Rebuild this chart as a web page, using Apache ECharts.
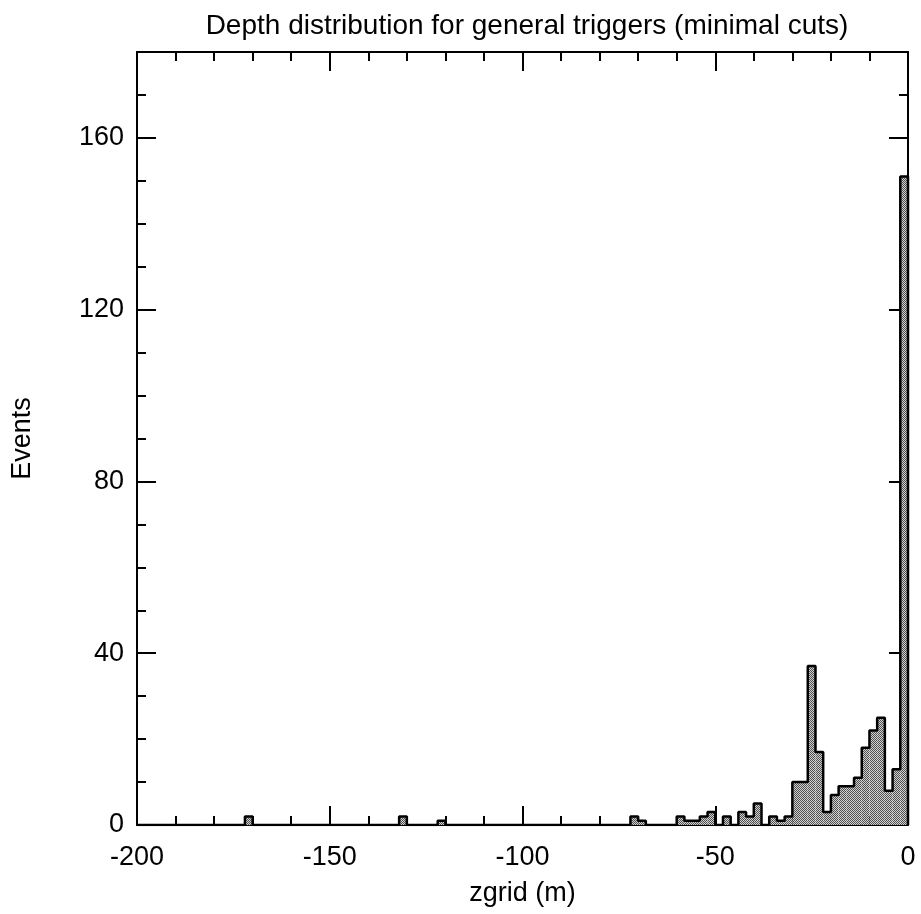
<!DOCTYPE html>
<html>
<head>
<meta charset="utf-8">
<script src="https://cdn.jsdelivr.net/npm/echarts@6/dist/echarts.min.js"></script>
<style>
html,body{margin:0;padding:0;background:#fff;}
#main{width:921px;height:914px;}
</style>
</head>
<body>
<div id="main"></div>
<script>
// Histogram: bins of 2 m from -200 to 0 (index i covers [-200+2i, -198+2i])
var binStart = -200;
var binWidth = 2;
var counts = [
  0,0,0,0,0,0,0,0,0,0,   // -200 .. -180
  0,0,0,0,2,0,0,0,0,0,   // -180 .. -160
  0,0,0,0,0,0,0,0,0,0,   // -160 .. -140
  0,0,0,0,2,0,0,0,0,1,   // -140 .. -120
  0,0,0,0,0,0,0,0,0,0,   // -120 .. -100
  0,0,0,0,0,0,0,0,0,0,   // -100 .. -80
  0,0,0,0,2,1,0,0,0,0,   // -80 .. -60
  2,1,1,2,3,0,2,0,3,2,   // -60 .. -40
  5,0,2,1,2,10,10,37,17,3, // -40 .. -20
  7,9,9,11,18,22,25,8,13,151 // -20 .. 0
];
var xTicks = [-200,-150,-100,-50,0];
var yTicks = [0,40,80,120,160];

var titleText = 'Depth distribution for general triggers (minimal cuts)';
var xName = 'zgrid (m)';
var yName = 'Events';

// stipple pattern
var pc = document.createElement('canvas');
pc.width = 2; pc.height = 2;
var pctx = pc.getContext('2d');
pctx.fillStyle = '#d0d0d0'; pctx.fillRect(0,0,2,2);
pctx.fillStyle = '#505050'; pctx.fillRect(0,0,1,1); pctx.fillRect(1,1,1,1);

var rects = counts.map(function(c,i){ return [binStart + i*binWidth, binStart + (i+1)*binWidth, c]; });
var outline = [];
for (var i=0;i<counts.length;i++) outline.push([binStart + i*binWidth, counts[i]]);
outline.push([binStart + counts.length*binWidth, 0]);

var FONT = 'Liberation Sans, Arial, sans-serif';
var chart = echarts.init(document.getElementById('main'), null, {renderer:'canvas'});

function xAxisCfg(pos, labels){
  return {
    type:'value', position:pos, min:-200, max:0, interval:50,
    axisLine:{show:true, onZero:false, lineStyle:{color:'#000', width:2}},
    axisTick:{show:true, inside:true, length:19, lineStyle:{color:'#000', width:2}},
    minorTick:{show:true, splitNumber:5, length:9, lineStyle:{color:'#000', width:2}},
    splitLine:{show:false},
    axisLabel:{show:labels, color:'#000', fontSize:27, fontFamily:FONT, margin:19,
      formatter:function(v){ return xTicks.indexOf(v)>=0 ? String(v) : ''; }},
    name: labels ? xName : '', nameLocation:'middle', nameGap:55,
    nameTextStyle:{color:'#000', fontSize:27, fontFamily:FONT}
  };
}
function yAxisCfg(pos, labels){
  return {
    type:'value', position:pos, min:0, max:180, interval:40,
    axisLine:{show:true, onZero:false, lineStyle:{color:'#000', width:2}},
    axisTick:{show:true, inside:true, length:19, lineStyle:{color:'#000', width:2}},
    minorTick:{show:true, splitNumber:4, length:9, lineStyle:{color:'#000', width:2}},
    splitLine:{show:false},
    axisLabel:{show:labels, color:'#000', fontSize:27, fontFamily:FONT, margin:13,
      formatter:function(v){ return yTicks.indexOf(v)>=0 ? String(v) : ''; }},
    name: labels ? yName : '', nameLocation:'middle', nameGap:101, nameRotate:90,
    nameTextStyle:{color:'#000', fontSize:27, fontFamily:FONT}
  };
}

chart.setOption({
  animation:false,
  backgroundColor:'#fff',
  title:{text:titleText, left:522, top:7, textAlign:'center',
    textStyle:{color:'#000', fontSize:28, fontWeight:'normal', fontFamily:FONT}},
  grid:{left:137, right:13, top:52, bottom:89, containLabel:false, outerBoundsMode:'none'},
  xAxis:[xAxisCfg('bottom', true), xAxisCfg('top', false)],
  yAxis:[yAxisCfg('left', true), yAxisCfg('right', false)],
  series:[
    {
      type:'custom', xAxisIndex:0, yAxisIndex:0, data:rects, z:2,
      renderItem:function(params, api){
        var p0 = api.coord([api.value(0), api.value(2)]);
        var p1 = api.coord([api.value(1), 0]);
        return {type:'rect', shape:{x:p0[0], y:p0[1], width:p1[0]-p0[0], height:p1[1]-p0[1]},
          style:{fill:{image:pc, repeat:'repeat'}, stroke:null}};
      }
    },
    {
      type:'line', xAxisIndex:0, yAxisIndex:0, data:outline, step:'end', z:3,
      symbol:'none', lineStyle:{color:'#000', width:2.5}
    }
  ]
});
</script>
</body>
</html>
